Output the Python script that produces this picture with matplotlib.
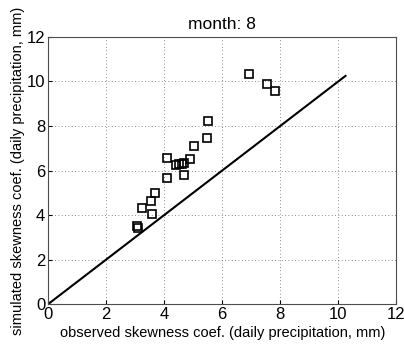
import matplotlib
matplotlib.use('Agg')
import matplotlib.pyplot as plt

plt.rcParams['font.family'] = ['Liberation Sans', 'DejaVu Sans']

# observed vs simulated skewness, month 8
obs = [6.94, 7.55, 7.83, 5.51, 5.49, 5.04, 4.90, 4.10, 4.42, 4.52, 4.61, 4.69,
       4.69, 4.10, 3.70, 3.53, 3.22, 3.58, 3.06, 3.11]
sim = [10.32, 9.89, 9.59, 8.21, 7.46, 7.11, 6.53, 6.54, 6.27, 6.30, 6.30, 6.33,
       5.82, 5.65, 4.99, 4.61, 4.30, 4.05, 3.50, 3.40]
line_end = 10.25
ticks = [0, 2, 4, 6, 8, 10, 12]

fig = plt.figure(figsize=(4.04, 3.48), dpi=100)
ax = fig.add_axes([0.119, 0.126, 0.862, 0.768])

ax.plot([0, line_end], [0, line_end], 'k-', linewidth=1.5)
ax.plot(obs, sim, 's', markersize=6, markerfacecolor='none',
        markeredgecolor='k', markeredgewidth=1.2)

ax.set_xlim(0, 12)
ax.set_ylim(0, 12)
ax.set_xticks(ticks)
ax.set_yticks(ticks)
ax.grid(True, linestyle=(0, (1, 3)), color='k', linewidth=0.6, alpha=0.6)
ax.tick_params(direction='in', length=3, labelsize=12, pad=2)
for s in ax.spines.values():
    s.set_linewidth(0.8)
    s.set_color('0.3')

ax.set_title('month: 8', fontsize=12.5, pad=6)
ax.set_xlabel('observed skewness coef. (daily precipitation, mm)', fontsize=10.5, labelpad=3)
ax.set_ylabel('simulated skewness coef. (daily precipitation, mm)', fontsize=10.5, labelpad=1)

fig.savefig('out.png', dpi=100)
